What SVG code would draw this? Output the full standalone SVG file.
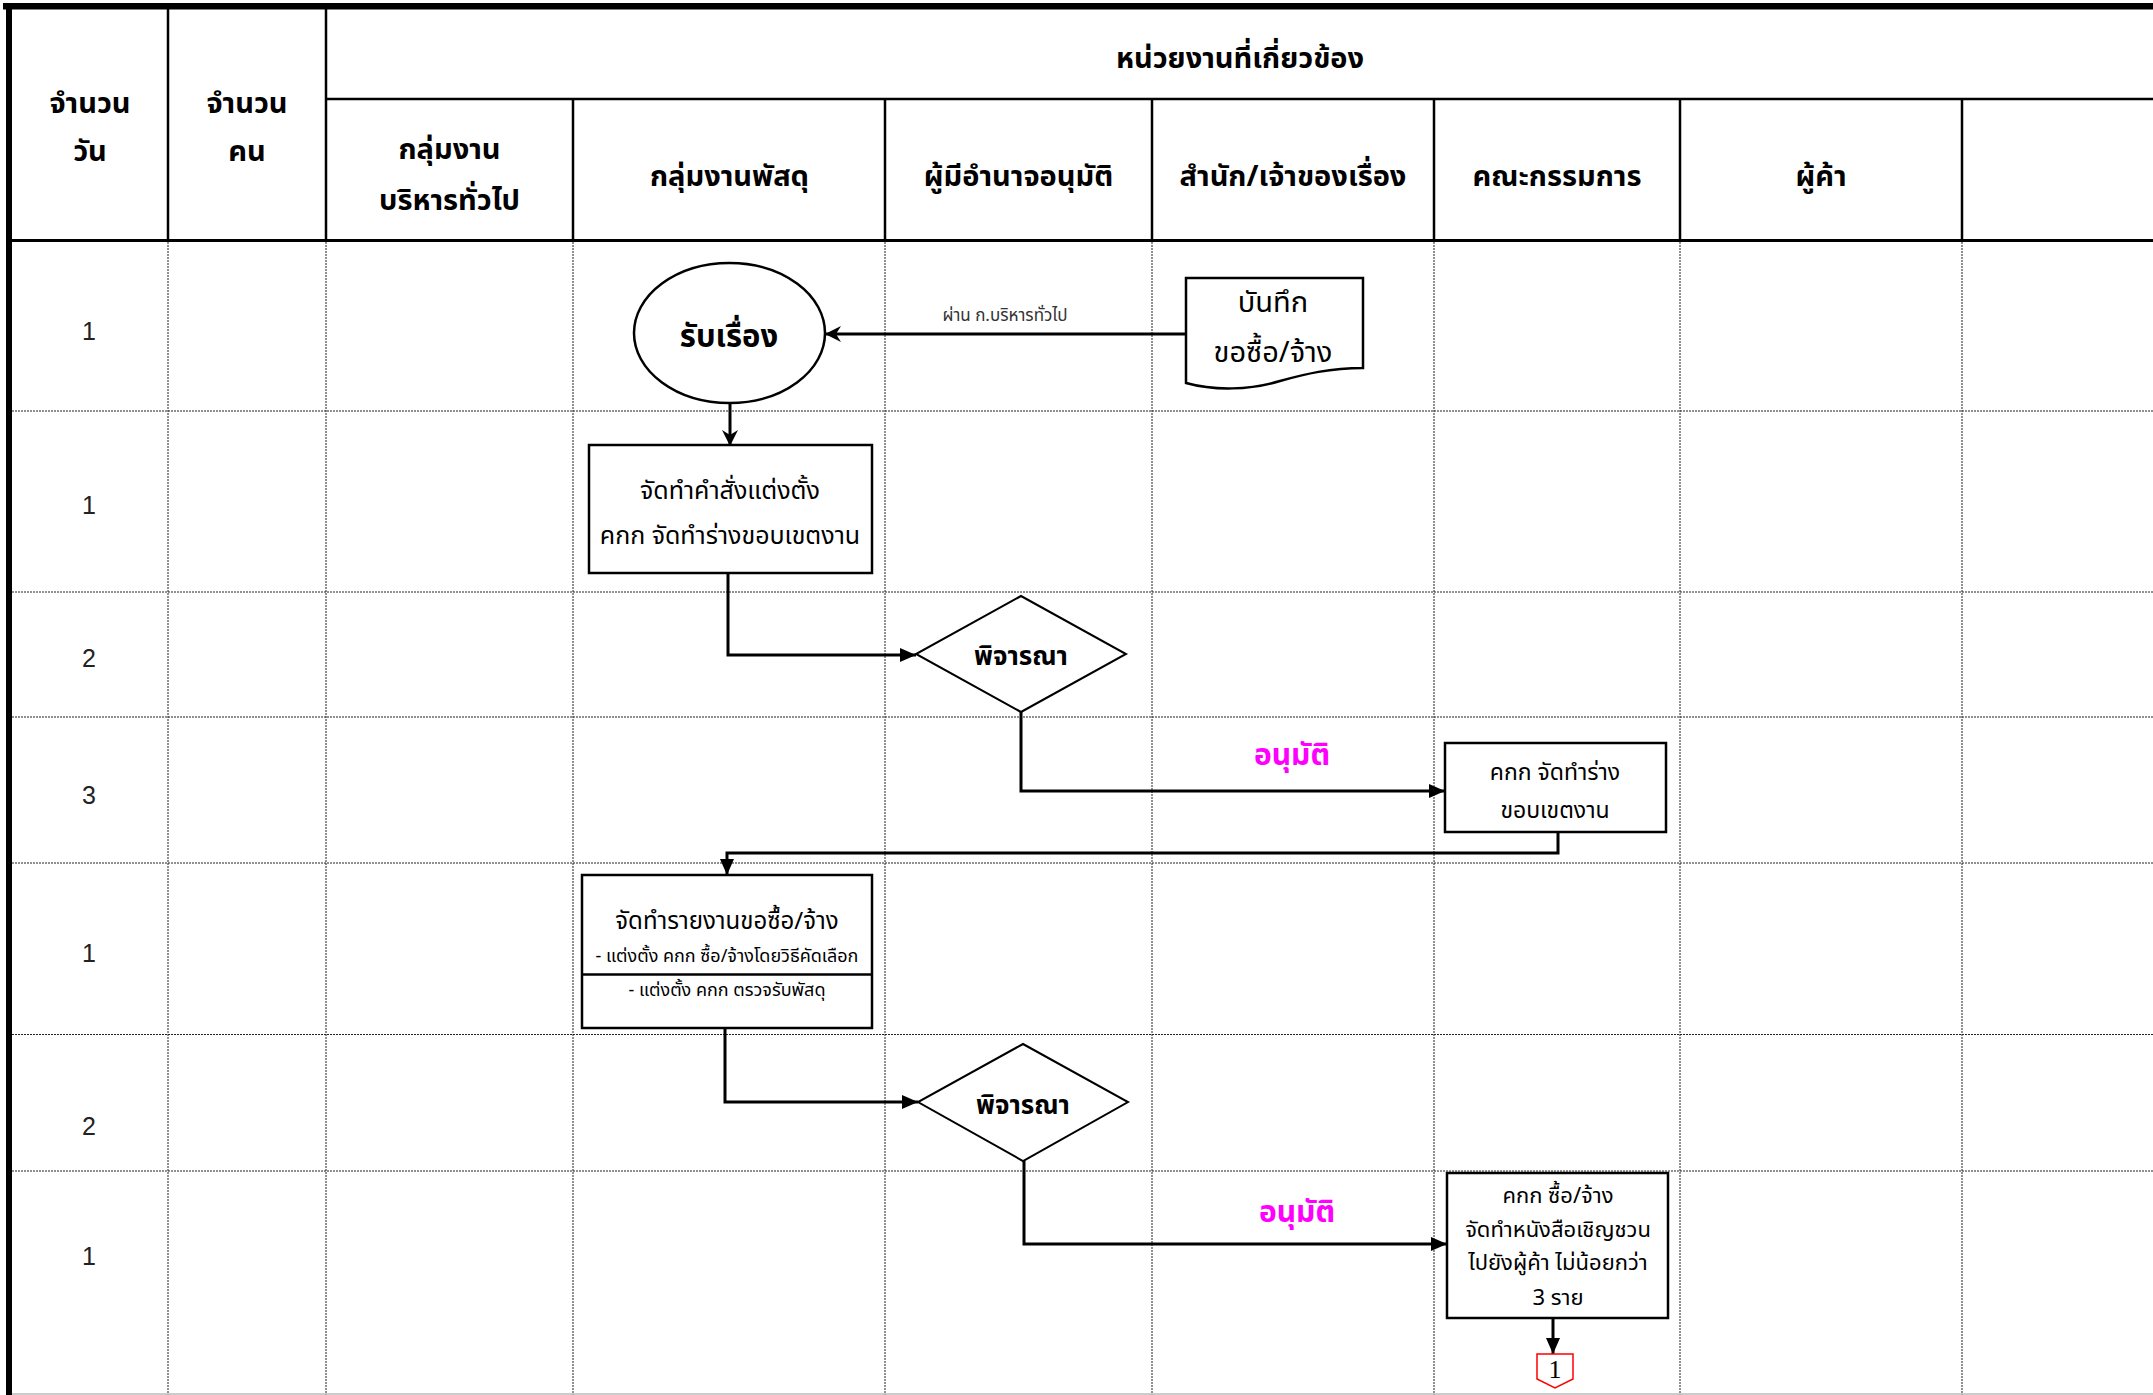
<svg xmlns="http://www.w3.org/2000/svg" width="2153" height="1395" viewBox="0 0 2153 1395">
<defs>
<style>
.t{font-family:"Noto Sans Thai","Noto Sans Thai UI","Noto Sans","DejaVu Sans",sans-serif;fill:#000;text-anchor:middle}
.h{font-size:29px;font-weight:bold}
.num{font-family:"Liberation Sans",sans-serif;font-size:25px;fill:#222;text-anchor:middle}
.hl{stroke:#000;stroke-width:2.5;fill:none}
.dl{stroke:#222;stroke-width:1;stroke-dasharray:2 1;fill:none}
.box{fill:#fff;stroke:#000;stroke-width:2.5}
.dia{fill:#fff;stroke:#000;stroke-width:2}
.con{fill:none;stroke:#000;stroke-width:3}
.ok{font-size:30px;font-weight:bold;fill:#FF00FF}
</style>
<marker id="tri" viewBox="0 0 16 14" refX="16" refY="7" markerWidth="16" markerHeight="14" markerUnits="userSpaceOnUse" orient="auto">
<path d="M0,0 L16,7 L0,14 Z" fill="#000"/>
</marker>
<marker id="stl" viewBox="0 0 16 16" refX="15" refY="8" markerWidth="16" markerHeight="16" markerUnits="userSpaceOnUse" orient="auto">
<path d="M0,0 L16,8 L0,16 L5,8 Z" fill="#000"/>
</marker>
</defs>
<rect x="0" y="0" width="2153" height="1395" fill="#fff"/>

<g id="grid">
<path class="dl" d="M12,411 H2153 M12,592 H2153 M12,717 H2153 M12,863 H2153 M12,1034.5 H2153 M12,1171 H2153"/>
<path class="dl" d="M168,242 V1395 M326,242 V1395 M573,242 V1395 M885,242 V1395 M1152,242 V1395 M1434,242 V1395 M1680,242 V1395 M1962,242 V1395"/>
<path class="hl" d="M168,9 V240 M326,9 V240 M573,99 V240 M885,99 V240 M1152,99 V240 M1434,99 V240 M1680,99 V240 M1962,99 V240 M326,99 H2153"/>
<path d="M7,240.5 H2153" stroke="#000" stroke-width="3"/>
<rect x="3" y="3" width="2150" height="6.5" fill="#000"/>
<rect x="6" y="3" width="6" height="1392" fill="#000"/>
<path d="M12,1394 H2153" stroke="#bbb" stroke-width="1.5"/>
</g>

<g id="header">
<text class="t h" x="1240" y="68">หน่วยงานที่เกี่ยวข้อง</text>
<text class="t h" x="90" y="113">จำนวน</text>
<text class="t h" x="90" y="161">วัน</text>
<text class="t h" x="247" y="113">จำนวน</text>
<text class="t h" x="247" y="161">คน</text>
<text class="t h" x="449.5" y="159">กลุ่มงาน</text>
<text class="t h" x="449.5" y="210">บริหารทั่วไป</text>
<text class="t h" x="729.5" y="186">กลุ่มงานพัสดุ</text>
<text class="t h" x="1018.5" y="186">ผู้มีอำนาจอนุมัติ</text>
<text class="t h" x="1293" y="186">สำนัก/เจ้าของเรื่อง</text>
<text class="t h" x="1557" y="186">คณะกรรมการ</text>
<text class="t h" x="1821" y="186">ผู้ค้า</text>
</g>

<g id="days">
<text class="num" x="89" y="340">1</text>
<text class="num" x="89" y="514">1</text>
<text class="num" x="89" y="667">2</text>
<text class="num" x="89" y="804">3</text>
<text class="num" x="89" y="962">1</text>
<text class="num" x="89" y="1135">2</text>
<text class="num" x="89" y="1265">1</text>
</g>

<g id="connectors">
<path class="con" d="M1186,334 H826" marker-end="url(#stl)"/>
<text class="t" x="1005" y="321" style="font-size:17px;fill:#333">ผ่าน ก.บริหารทั่วไป</text>
<path class="con" d="M730,403 V445" marker-end="url(#stl)"/>
<path class="con" d="M728,573 V655 H916" marker-end="url(#tri)"/>
<path class="con" d="M1021,712 V791 H1445" marker-end="url(#tri)"/>
<text class="t ok" x="1292" y="765">อนุมัติ</text>
<path class="con" d="M1558,832 V853 H727 V875" marker-end="url(#tri)"/>
<path class="con" d="M725,1028 V1102 H918" marker-end="url(#tri)"/>
<path class="con" d="M1024,1161 V1244 H1447" marker-end="url(#tri)"/>
<text class="t ok" x="1297" y="1222">อนุมัติ</text>
<path class="con" d="M1553,1318 V1354" marker-end="url(#tri)"/>
</g>

<g id="n-doc">
<path class="box" d="M1186,278 H1363 V368 C1330,368 1305,374 1280,381 C1250,390 1215,391 1186,383 Z"/>
<text class="t" x="1273" y="312" style="font-size:29px">บันทึก</text>
<text class="t" x="1273" y="362" style="font-size:29px">ขอซื้อ/จ้าง</text>
</g>

<g id="n-receive">
<ellipse class="box" cx="729.5" cy="333" rx="95.5" ry="70"/>
<text class="t" x="729" y="347" style="font-size:31px;font-weight:bold">รับเรื่อง</text>
</g>

<g id="n-order">
<rect class="box" x="589" y="445" width="283" height="128"/>
<text class="t" x="730" y="499" style="font-size:25px">จัดทำคำสั่งแต่งตั้ง</text>
<text class="t" x="730" y="544" style="font-size:25px">คกก จัดทำร่างขอบเขตงาน</text>
</g>

<g id="n-consider1">
<polygon class="dia" points="1021,596 1126,654 1021,712 916,654"/>
<text class="t" x="1021" y="665" style="font-size:26px;font-weight:bold">พิจารณา</text>
</g>

<g id="n-draft">
<rect class="box" x="1445" y="743" width="221" height="89"/>
<text class="t" x="1555" y="780" style="font-size:23px">คกก จัดทำร่าง</text>
<text class="t" x="1555" y="818" style="font-size:23px">ขอบเขตงาน</text>
</g>

<g id="n-report">
<rect class="box" x="582" y="875" width="290" height="153"/>
<path d="M582,974.5 H872" stroke="#000" stroke-width="2.5"/>
<text class="t" x="727" y="929" style="font-size:24px">จัดทำรายงานขอซื้อ/จ้าง</text>
<text class="t" x="727" y="962" style="font-size:18px">- แต่งตั้ง คกก ซื้อ/จ้างโดยวิธีคัดเลือก</text>
<text class="t" x="727" y="996" style="font-size:18px">- แต่งตั้ง คกก ตรวจรับพัสดุ</text>
</g>

<g id="n-consider2">
<polygon class="dia" points="1023,1044 1128,1102 1023,1161 918,1102"/>
<text class="t" x="1023" y="1114" style="font-size:26px;font-weight:bold">พิจารณา</text>
</g>

<g id="n-invite">
<rect class="box" x="1447" y="1173" width="221" height="145"/>
<text class="t" x="1558" y="1203" style="font-size:22px">คกก ซื้อ/จ้าง</text>
<text class="t" x="1558" y="1237" style="font-size:22px">จัดทำหนังสือเชิญชวน</text>
<text class="t" x="1558" y="1270" style="font-size:22px">ไปยังผู้ค้า ไม่น้อยกว่า</text>
<text class="t" x="1558" y="1305" style="font-size:22px">3 ราย</text>
</g>

<g id="n-offpage">
<polygon points="1537,1354 1573,1354 1573,1379 1555,1388 1537,1379" fill="#fff" stroke="#f00" stroke-width="1.5"/>
<text x="1555" y="1378" style="font-family:'Liberation Serif',serif;font-size:26px;text-anchor:middle;fill:#000">1</text>
</g>
</svg>
